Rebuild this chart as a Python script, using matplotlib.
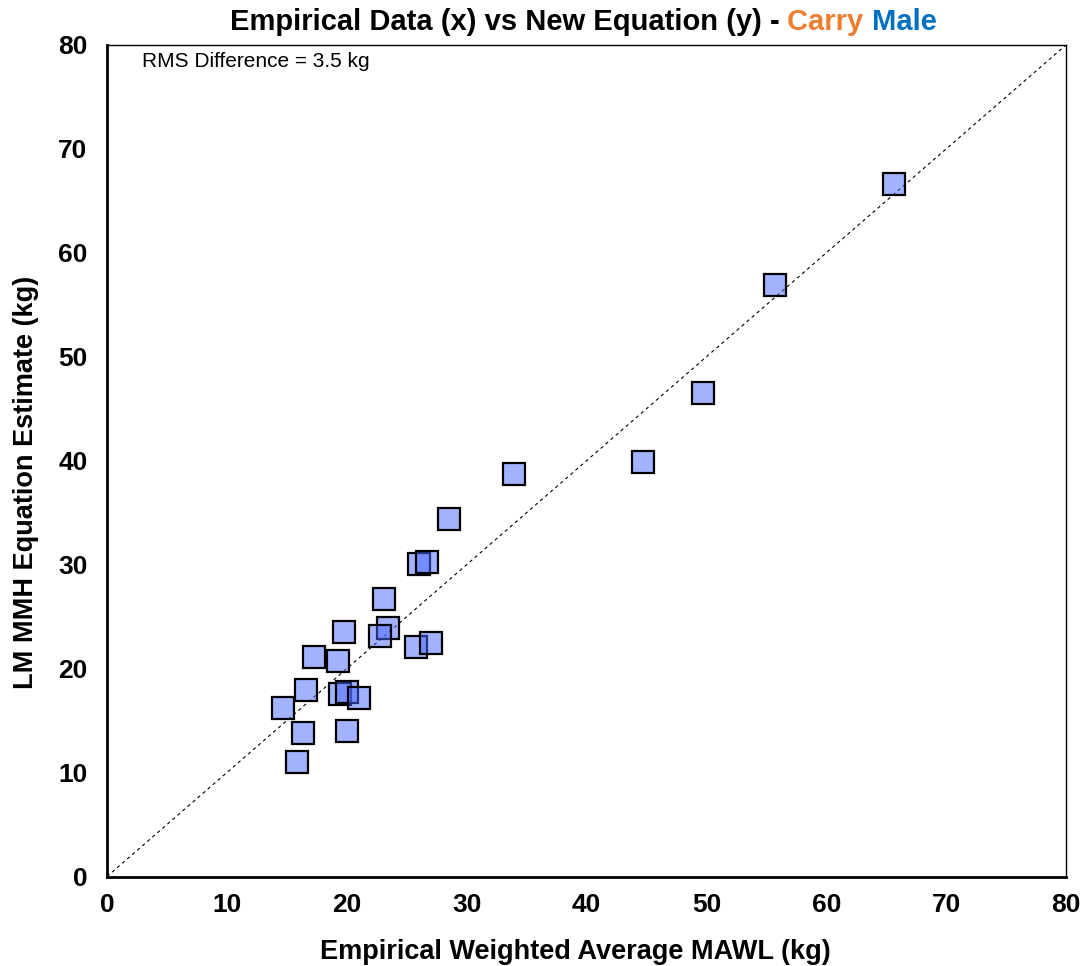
import matplotlib
matplotlib.use("Agg")
import matplotlib.pyplot as plt

plt.rcParams['font.family'] = ['Liberation Sans', 'DejaVu Sans']

empirical_x = [65.64, 55.71, 49.71, 44.70, 33.93, 28.57, 26.01, 26.66, 23.09, 23.42,
               22.75, 25.81, 27.04, 19.81, 17.25, 19.31, 16.56, 14.66, 19.47, 20.00,
               21.00, 16.39, 20.00, 15.89]
equation_y = [66.65, 56.94, 46.53, 39.92, 38.77, 34.36, 30.08, 30.22, 26.68, 23.89,
              23.12, 22.09, 22.49, 23.51, 21.11, 20.72, 17.97, 16.17, 17.58, 17.74,
              17.16, 13.79, 13.98, 11.04]
ticks = [0, 10, 20, 30, 40, 50, 60, 70, 80]
title_parts = [("Empirical Data (x) vs New Equation (y) - ", "black"),
               ("Carry ", "#ED7D31"),
               ("Male", "#0070C0")]
rms_text = "RMS Difference = 3.5 kg"

fig = plt.figure(figsize=(10.86, 9.66), dpi=100)
ax = fig.add_axes([107/1086, 1 - 876.5/966, (1066-107)/1086, (876.5-45)/966])

ax.plot([0, 80], [0, 80], color='black', linestyle=(0, (3, 3)), linewidth=0.8, zorder=1)
ax.plot(empirical_x, equation_y, linestyle='none', marker='s', markersize=15.5,
        markerfacecolor=(0.29, 0.41, 1.0, 0.5), markeredgecolor='black',
        markeredgewidth=1.6, zorder=3)

ax.set_xlim(0, 80)
ax.set_ylim(0, 80)
ax.set_xticks(ticks)
ax.set_yticks(ticks)
ax.tick_params(length=0, labelsize=19)
ax.tick_params(axis='x', pad=12)
ax.tick_params(axis='y', pad=14)
for lab in ax.get_xticklabels() + ax.get_yticklabels():
    lab.set_fontweight('bold')
for s in ['left', 'bottom']:
    ax.spines[s].set_linewidth(2)
for s in ['top', 'right']:
    ax.spines[s].set_linewidth(1)

ax.set_xlabel("Empirical Weighted Average MAWL (kg)", fontsize=19.5, fontweight='bold')
ax.set_ylabel("LM MMH Equation Estimate (kg)", fontsize=19.5, fontweight='bold')
ax.xaxis.set_label_coords((575 - 107) / 959, -(952 - 876.5) / 831.5)
ax.yaxis.set_label_coords(-(107 - 26) / 959, (876.5 - 482) / 831.5)
ax.xaxis.label.set_va('center')
ax.yaxis.label.set_va('center')

ax.text(0.036, 0.992, rms_text, transform=ax.transAxes, fontsize=15, va='top', ha='left')

# multi-colour title
fig.canvas.draw()
renderer = fig.canvas.get_renderer()
texts = []
for s, c in title_parts:
    t = fig.text(0, 0.977, s, color=c, fontsize=21, fontweight='bold', ha='left', va='center')
    texts.append(t)
widths = []
for t in texts:
    bb = t.get_window_extent(renderer=renderer)
    widths.append(bb.width / fig.bbox.width)
total = sum(widths)
center = 583 / 1086
x = center - total / 2
for t, w in zip(texts, widths):
    t.set_x(x)
    x += w

fig.savefig("out.png", dpi=100)
